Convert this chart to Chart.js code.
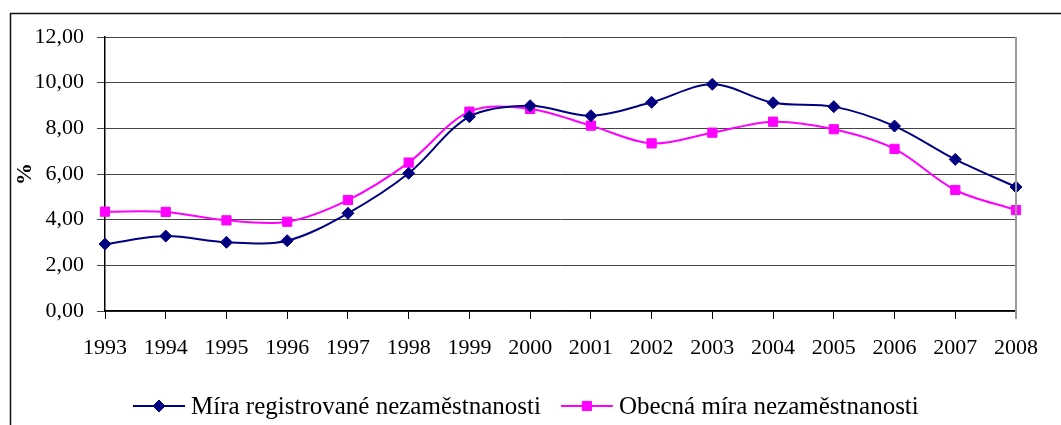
<!DOCTYPE html>
<html>
<head>
<meta charset="utf-8">
<script src="https://cdn.jsdelivr.net/npm/chart.js@4"></script>
<style>
  html, body { margin: 0; padding: 0; background: #fff; }
  #wrap { width: 1061px; height: 425px; position: relative; }
</style>
</head>
<body>
<div id="wrap"><canvas id="c" width="1061" height="425"></canvas></div>
<script>
// ---- data ----
const years = ['1993','1994','1995','1996','1997','1998','1999','2000','2001','2002','2003','2004','2005','2006','2007','2008'];
const registeredRate = [2.93, 3.28, 3.01, 3.08, 4.28, 6.03, 8.51, 8.99, 8.55, 9.14, 9.93, 9.12, 8.95, 8.10, 6.64, 5.43];
const generalRate    = [4.35, 4.34, 3.97, 3.91, 4.86, 6.50, 8.73, 8.85, 8.12, 7.34, 7.81, 8.29, 7.96, 7.10, 5.30, 4.42];
const seriesLabels = ['Míra registrované nezaměstnanosti', 'Obecná míra nezaměstnanosti'];
const yMin = 0, yMax = 12, yStep = 2;
const yTitle = '%';

const FONT = '"Liberation Serif", "Times New Roman", serif';

const framePlugin = {
  id: 'frame',
  afterDraw(chart) {
    const ctx = chart.ctx;
    const a = chart.chartArea;
    ctx.save();
    // right border of plot area (gray)
    ctx.strokeStyle = '#9a9a9a';
    ctx.lineWidth = 2;
    ctx.beginPath();
    ctx.moveTo(a.right, a.top);
    ctx.lineTo(a.right, a.bottom + 8);
    ctx.stroke();
    // outer frame (left + top)
    ctx.strokeStyle = '#111';
    ctx.lineWidth = 1.5;
    ctx.beginPath();
    ctx.moveTo(10.5, 425);
    ctx.lineTo(10.5, 13.5);
    ctx.lineTo(1061, 13.5);
    ctx.stroke();

    // custom legend: line with marker + label
    ctx.font = '25px ' + FONT;
    ctx.textBaseline = 'middle';
    ctx.textAlign = 'left';
    const lineLen = 52, gapText = 6, gapItem = 20;
    const items = chart.data.datasets.map(ds => ({ds, w: ctx.measureText(ds.label).width}));
    let total = 0;
    items.forEach((it, i) => { total += lineLen + gapText + it.w + (i < items.length - 1 ? gapItem : 0); });
    let x = Math.round(chart.width / 2 - 5 - total / 2);
    const y = 406;
    items.forEach(it => {
      const ds = it.ds;
      ctx.strokeStyle = ds.borderColor;
      ctx.lineWidth = 2;
      ctx.beginPath();
      ctx.moveTo(x, y);
      ctx.lineTo(x + lineLen, y);
      ctx.stroke();
      ctx.save();
      ctx.fillStyle = ds.pointBackgroundColor;
      ctx.strokeStyle = ds.pointBorderColor;
      ctx.lineWidth = 1;
      Chart.helpers.drawPoint(ctx, {pointStyle: ds.pointStyle, radius: ds.pointRadius, rotation: 0, borderWidth: 1}, x + lineLen / 2, y);
      ctx.restore();
      ctx.fillStyle = '#000';
      ctx.fillText(ds.label, x + lineLen + gapText, y + 1);
      x += lineLen + gapText + it.w + gapItem;
    });
    ctx.restore();
  }
};

new Chart(document.getElementById('c'), {
  type: 'line',
  data: {
    labels: years,
    datasets: [
      {
        label: seriesLabels[0],
        data: registeredRate,
        borderColor: '#000080',
        backgroundColor: '#000080',
        pointBackgroundColor: '#000080',
        pointBorderColor: '#000080',
        pointStyle: 'rectRot',
        pointRadius: 6,
        pointBorderWidth: 1,
        borderWidth: 2,
        tension: 0.33,
        fill: false
      },
      {
        label: seriesLabels[1],
        data: generalRate,
        borderColor: '#FF00FF',
        backgroundColor: '#FF00FF',
        pointBackgroundColor: '#FF00FF',
        pointBorderColor: '#FF00FF',
        pointStyle: 'rect',
        pointRadius: 6.5,
        pointBorderWidth: 1,
        borderWidth: 2,
        tension: 0.33,
        fill: false
      }
    ]
  },
  options: {
    responsive: false,
    animation: false,
    devicePixelRatio: 1,
    layout: { padding: { left: 0, right: 45, top: 37, bottom: 64 } },
    plugins: {
      legend: { display: false },
      tooltip: { enabled: false }
    },
    scales: {
      x: {
        type: 'category',
        offset: false,
        afterFit(scale) { scale.height = 50; },
        grid: { drawOnChartArea: false, drawTicks: true, tickLength: 8, color: '#000', lineWidth: 1 },
        border: { color: '#000', width: 1.5 },
        ticks: {
          color: '#000', font: { family: FONT, size: 22 }, padding: 16,
          maxRotation: 0, autoSkip: false
        }
      },
      y: {
        min: yMin, max: yMax,
        afterFit(scale) { scale.width = 105; },
        grid: { color: '#444', lineWidth: 1, tickLength: 8, drawTicks: true },
        border: { color: '#000', width: 1.5 },
        ticks: {
          stepSize: yStep, color: '#000', font: { family: FONT, size: 22 }, padding: 13,
          callback: v => v.toFixed(2).replace('.', ',')
        },
        title: {
          display: true, text: yTitle, color: '#000',
          font: { family: FONT, size: 22, weight: 'bold' },
          padding: { top: 12, bottom: 0 }
        }
      }
    }
  },
  plugins: [framePlugin]
});
</script>
</body>
</html>
